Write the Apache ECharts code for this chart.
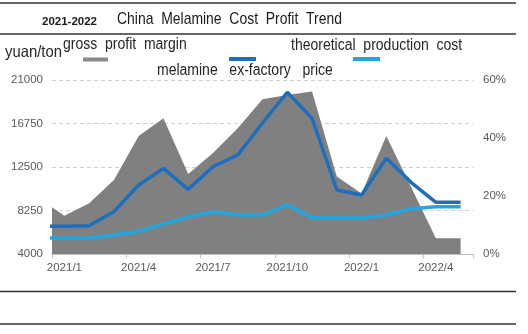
<!DOCTYPE html>
<html>
<head>
<meta charset="utf-8">
<script src="https://cdn.jsdelivr.net/npm/echarts@6/dist/echarts.min.js"></script>
<style>
  html, body { margin: 0; padding: 0; background: #ffffff; }
  #chart { width: 528px; height: 334px; }
</style>
</head>
<body>
<div id="chart"></div>
<script>
// Monthly series; the first month sits just left of the visible range and is clipped at the axis edge.
const months = ['2020/12', '2021/1', '2021/2', '2021/3', '2021/4', '2021/5', '2021/6', '2021/7', '2021/8',
  '2021/9', '2021/10', '2021/11', '2021/12', '2022/1', '2022/2', '2022/3', '2022/4', '2022/5'];

// gross profit margin, %
const grossMargin = [19.0, 13.2, 17.5, 25.5, 40.7, 46.8, 27.6, 34.8, 43.4,
  53.4, 54.8, 56.0, 26.7, 20.9, 40.7, 23.1, 5.4, 5.4];

// melamine ex-factory price, yuan/ton
const exFactoryPrice = [6700, 6700, 6770, 8130, 10740, 12370, 10320, 12530, 13670,
  16800, 19800, 17260, 10250, 9760, 13350, 11000, 9050, 9050];

// theoretical production cost, yuan/ton
const productionCost = [5560, 5560, 5560, 5860, 6200, 6940, 7610, 8130, 7810,
  7810, 8790, 7550, 7550, 7520, 7810, 8430, 8620, 8620];

const priceTicks = [4000, 8250, 12500, 16750, 21000];
const marginTicks = [0, 20, 40, 60];

const FONT = '"Liberation Sans", Arial, sans-serif';
const AXIS_GREY = '#595959';
const GREY = '#808080';
const DARK_BLUE = '#1c6fbf';
const LIGHT_BLUE = '#21a7e0';

const shownMonths = months.slice(1);
const asPoints = arr => arr.map((v, i) => [i, v]);

const chart = echarts.init(document.getElementById('chart'), null, { renderer: 'canvas' });

const hLine = (y) => ({
  type: 'line', shape: { x1: 0, y1: y, x2: 516, y2: y },
  style: { stroke: '#333333', lineWidth: 1.6 }
});
// Heading / legend text, drawn slightly condensed
const label = (x, y, text, opts, sx) => ({
  type: 'text', x: x, y: y, scaleX: sx === undefined ? 0.875 : sx,
  style: Object.assign({
    text: text, fill: '#262626', font: '16px ' + FONT, textVerticalAlign: 'middle'
  }, opts || {})
});
const swatch = (x, y, w, color) => ({
  type: 'rect', shape: { x: x, y: y, width: w, height: 4 }, style: { fill: color }
});

const axisText = { color: AXIS_GREY, fontSize: 11.5, fontFamily: FONT };

chart.setOption({
  animation: false,
  backgroundColor: '#ffffff',
  grid: { left: 52, right: 55, top: 80, bottom: 80, containLabel: false },
  xAxis: [
    {
      type: 'category',
      data: shownMonths,
      boundaryGap: true,
      axisLine: { show: true, lineStyle: { color: '#bfbfbf', width: 1 } },
      axisTick: { show: true, interval: 2, length: 4, lineStyle: { color: '#bfbfbf' } },
      axisLabel: Object.assign({ interval: 2, margin: 8 }, axisText),
      splitLine: { show: false }
    },
    { type: 'value', min: 0.5, max: 17.5, show: false }
  ],
  yAxis: [
    {
      type: 'value', position: 'left', min: 4000, max: 21000,
      axisLine: { show: false },
      axisTick: { show: false, customValues: priceTicks },
      axisLabel: Object.assign({ customValues: priceTicks, margin: 9, formatter: v => String(v) }, axisText),
      splitLine: { show: true, lineStyle: { color: '#d0d0d0', type: [4, 3], width: 1 } }
    },
    {
      type: 'value', position: 'right', min: 0, max: 60, interval: 20,
      axisLine: { show: false },
      axisTick: { show: false },
      axisLabel: Object.assign({ customValues: marginTicks, margin: 10, formatter: '{value}%' }, axisText),
      splitLine: { show: false }
    }
  ],
  series: [
    {
      name: 'gross profit margin', type: 'line', xAxisIndex: 1, yAxisIndex: 1,
      data: asPoints(grossMargin), symbol: 'none', z: 1,
      lineStyle: { width: 0 }, areaStyle: { color: GREY, opacity: 1 }, itemStyle: { color: GREY }
    },
    {
      name: 'theoretical production cost', type: 'line', xAxisIndex: 1, yAxisIndex: 0,
      data: asPoints(productionCost), symbol: 'none', z: 3,
      lineStyle: { width: 3.5, color: LIGHT_BLUE }, itemStyle: { color: LIGHT_BLUE }
    },
    {
      name: 'melamine ex-factory price', type: 'line', xAxisIndex: 1, yAxisIndex: 0,
      data: asPoints(exFactoryPrice), symbol: 'none', z: 4,
      lineStyle: { width: 3.5, color: DARK_BLUE }, itemStyle: { color: DARK_BLUE }
    }
  ],
  graphic: [
    hLine(3), hLine(34), hLine(291.5), hLine(324),
    label(42, 22, '2021-2022', { font: 'bold 11.5px ' + FONT, fill: '#1a1a1a' }, 1),
    label(117, 19.5, 'China  Melamine  Cost  Profit  Trend', { font: '17px ' + FONT, fill: '#1a1a1a' }, 0.82),
    label(5, 52.5, 'yuan/ton', { font: '16.5px ' + FONT }, 0.9),
    label(63, 45, 'gross  profit  margin'),
    swatch(83, 57.5, 25, '#8a8a8a'),
    label(157, 71, 'melamine   ex-factory   price'),
    swatch(229, 57, 27, DARK_BLUE),
    label(291, 45.5, 'theoretical  production  cost'),
    swatch(353, 57, 27, LIGHT_BLUE)
  ]
});
</script>
</body>
</html>
